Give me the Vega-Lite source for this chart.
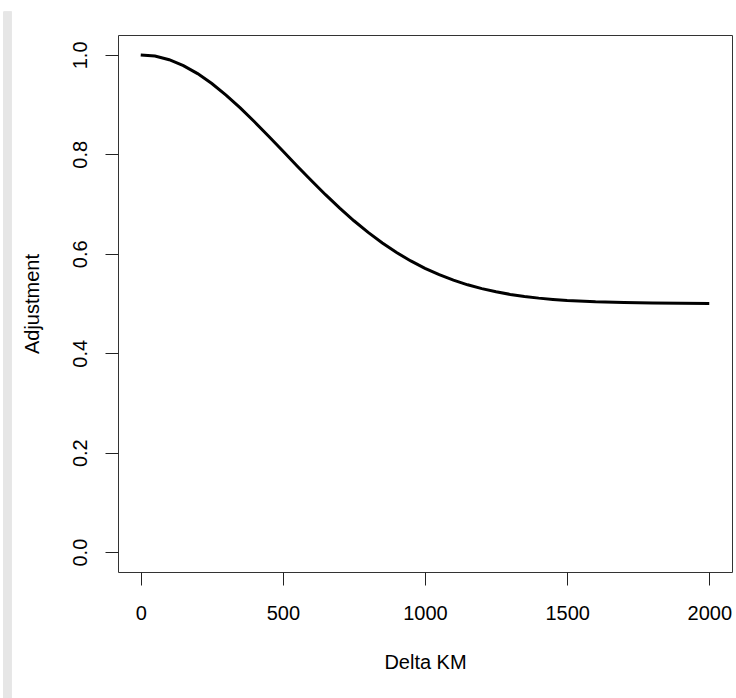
{
  "$schema": "https://vega.github.io/schema/vega-lite/v6.json",
  "width": 614,
  "height": 537,
  "autosize": {"type": "none"},
  "padding": {"left": 118, "top": 35, "right": 4, "bottom": 126},
  "background": "white",
  "config": {
    "view": {"stroke": "#333333", "strokeWidth": 1},
    "font": "Liberation Sans",
    "axis": {
      "labelFont": "Liberation Sans",
      "titleFont": "Liberation Sans",
      "labelFontSize": 20,
      "titleFontSize": 20,
      "titleFontWeight": "normal",
      "labelColor": "black",
      "titleColor": "black",
      "tickColor": "#222222",
      "tickSize": 13,
      "grid": false,
      "domain": false
    }
  },
  "data": {
    "values": [
      {"delta_km": 0, "adjustment": 1.0},
      {"delta_km": 50, "adjustment": 0.9976},
      {"delta_km": 100, "adjustment": 0.9903},
      {"delta_km": 150, "adjustment": 0.9785},
      {"delta_km": 200, "adjustment": 0.9624},
      {"delta_km": 250, "adjustment": 0.9425},
      {"delta_km": 300, "adjustment": 0.9193},
      {"delta_km": 350, "adjustment": 0.8935},
      {"delta_km": 400, "adjustment": 0.8656},
      {"delta_km": 450, "adjustment": 0.8365},
      {"delta_km": 500, "adjustment": 0.8066},
      {"delta_km": 550, "adjustment": 0.7767},
      {"delta_km": 600, "adjustment": 0.7473},
      {"delta_km": 650, "adjustment": 0.7188},
      {"delta_km": 700, "adjustment": 0.6917},
      {"delta_km": 750, "adjustment": 0.6664},
      {"delta_km": 800, "adjustment": 0.643},
      {"delta_km": 850, "adjustment": 0.6217},
      {"delta_km": 900, "adjustment": 0.6025},
      {"delta_km": 950, "adjustment": 0.5856},
      {"delta_km": 1000, "adjustment": 0.5707},
      {"delta_km": 1050, "adjustment": 0.5579},
      {"delta_km": 1100, "adjustment": 0.5469},
      {"delta_km": 1150, "adjustment": 0.5376},
      {"delta_km": 1200, "adjustment": 0.5299},
      {"delta_km": 1250, "adjustment": 0.5235},
      {"delta_km": 1300, "adjustment": 0.5183},
      {"delta_km": 1350, "adjustment": 0.5142},
      {"delta_km": 1400, "adjustment": 0.5108},
      {"delta_km": 1450, "adjustment": 0.5082},
      {"delta_km": 1500, "adjustment": 0.5061},
      {"delta_km": 1600, "adjustment": 0.5033},
      {"delta_km": 1700, "adjustment": 0.5018},
      {"delta_km": 1800, "adjustment": 0.5009},
      {"delta_km": 1900, "adjustment": 0.5004},
      {"delta_km": 2000, "adjustment": 0.5002}
    ]
  },
  "layer": [
    {
      "mark": {"type": "rect", "color": "#e6e6e6", "clip": false},
      "encoding": {
        "x": {"datum": -482, "type": "quantitative", "scale": {"domain": [-80, 2080], "nice": false, "zero": false}},
        "x2": {"datum": -455},
        "y": {"datum": 1.087, "type": "quantitative", "scale": {"domain": [-0.04, 1.04], "nice": false, "zero": false}},
        "y2": {"datum": -0.3}
      }
    },
    {
      "mark": {"type": "line", "color": "black", "strokeWidth": 3, "strokeCap": "butt"},
      "encoding": {
        "x": {
          "field": "delta_km",
          "type": "quantitative",
          "scale": {"domain": [-80, 2080], "nice": false, "zero": false},
          "axis": {
            "values": [0, 500, 1000, 1500, 2000],
            "format": "d",
            "labelPadding": 18,
            "title": "Delta KM",
            "titlePadding": 29
          }
        },
        "y": {
          "field": "adjustment",
          "type": "quantitative",
          "scale": {"domain": [-0.04, 1.04], "nice": false, "zero": false},
          "axis": {
            "values": [0, 0.2, 0.4, 0.6, 0.8, 1.0],
            "format": ".1f",
            "labelAngle": 270,
            "labelAlign": "center",
            "labelBaseline": "bottom",
            "labelPadding": 15,
            "title": "Adjustment",
            "titlePadding": 28
          }
        }
      }
    }
  ]
}
